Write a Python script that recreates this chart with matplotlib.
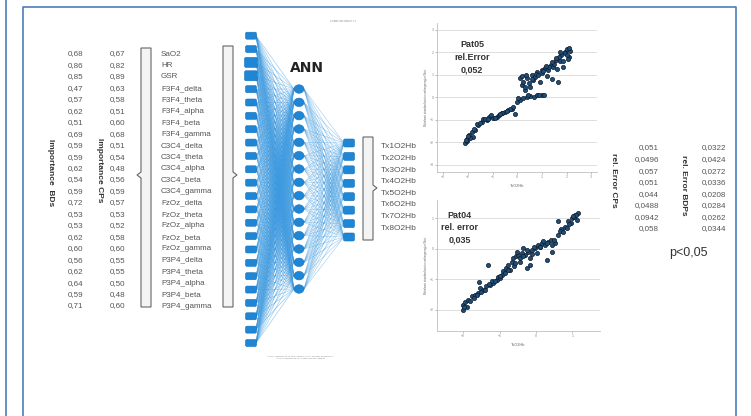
import numpy as np
import matplotlib.pyplot as plt
from matplotlib.patches import FancyBboxPatch, Ellipse, Polygon
from matplotlib.collections import LineCollection

plt.rcParams['font.family'] = ['Liberation Sans', 'DejaVu Sans']

# ---- data ----
features = ['SaO2', 'HR', 'GSR',
            'F3F4_delta', 'F3F4_theta', 'F3F4_alpha', 'F3F4_beta', 'F3F4_gamma',
            'C3C4_delta', 'C3C4_theta', 'C3C4_alpha', 'C3C4_beta', 'C3C4_gamma',
            'FzOz_delta', 'FzOz_theta', 'FzOz_alpha', 'FzOz_beta', 'FzOz_gamma',
            'P3P4_delta', 'P3P4_theta', 'P3P4_alpha', 'P3P4_beta', 'P3P4_gamma']
imp_bds = ['0,68', '0,86', '0,85', '0,47', '0,57', '0,62', '0,51', '0,69', '0,59', '0,59',
           '0,62', '0,54', '0,59', '0,72', '0,53', '0,53', '0,62', '0,60', '0,56', '0,62',
           '0,64', '0,59', '0,71']
imp_cps = ['0,67', '0,82', '0,89', '0,63', '0,58', '0,51', '0,60', '0,68', '0,51', '0,54',
           '0,48', '0,56', '0,59', '0,57', '0,53', '0,52', '0,58', '0,60', '0,55', '0,55',
           '0,50', '0,48', '0,60']
outputs = ['Tx1O2Hb', 'Tx2O2Hb', 'Tx3O2Hb', 'Tx4O2Hb', 'Tx5O2Hb', 'Tx6O2Hb', 'Tx7O2Hb', 'Tx8O2Hb']
err_cps = ['0,051', '0,0496', '0,057', '0,051', '0,044', '0,0488', '0,0942', '0,058']
err_bdps = ['0,0322', '0,0424', '0,0272', '0,0336', '0,0208', '0,0284', '0,0262', '0,0344']

n_input = 24   # 23 inputs + bias
n_hidden = 16
n_output = len(outputs)

pat05_x = [-2.12, -2.02, -1.94, -1.85, -1.71, -1.81, -1.58, -1.44, -1.38, -1.24, -1.13, -0.97,
           -0.84, -0.73, -0.63, -0.50, -0.36, -0.23, -0.09, -0.16, 0.00, 0.11, 0.24, 0.38,
           0.51, 0.67, 0.81, 0.99, 1.08, 0.18, 0.13, 0.24, 0.38, 0.49, 0.58, 0.72, 0.81,
           0.99, 1.12, 1.26, 1.35, 1.46, 1.39, 1.66, 1.57, 1.73, 1.79, 1.93, 2.02, 2.13,
           2.11, 1.86, 1.19, 0.92, 0.31, 0.51, -2.05, -1.90, -1.65, -1.30, -1.05, -0.60,
           -0.30, 0.05, 0.45, 0.90, 1.00, 1.50, 1.60, 1.95, 2.05, 0.65, 0.30, 1.70,
           -2.08, -1.98, -1.76, -1.50, -1.18, -0.90, -0.68, -0.42, 0.20, 0.35, 0.60,
           0.75, 1.05, 1.30, 1.42, 1.55, 1.85, 2.00, 2.10, 0.85, 1.15, 1.75]
pat05_y = [-2.01, -1.87, -1.67, -1.53, -1.45, -1.75, -1.23, -1.08, -0.98, -1.01, -0.89, -0.93,
           -0.86, -0.79, -0.71, -0.64, -0.56, -0.53, -0.74, -0.41, -0.19, -0.12, -0.04, 0.00,
           0.06, 0.03, 0.09, 0.12, 0.09, 0.55, 0.84, 0.70, 0.84, 0.62, 0.99, 0.92, 1.14,
           1.07, 1.29, 1.21, 1.44, 1.36, 0.80, 0.70, 1.66, 1.59, 1.88, 2.03, 2.13, 2.07,
           1.81, 1.36, 0.95, 0.70, 0.33, 0.47, -1.95, -1.80, -1.20, -0.95, -0.80, -0.70,
           -0.50, -0.05, 0.08, 0.10, 1.20, 1.50, 1.25, 1.95, 1.70, 0.75, 0.45, 1.80,
           -1.92, -1.72, -1.40, -1.15, -0.95, -0.90, -0.75, -0.60, 0.95, 1.00, 0.80,
           1.05, 1.15, 1.35, 1.55, 1.75, 1.60, 1.90, 2.20, 1.00, 1.40, 2.00]

pat04_x = [-2.00, -2.00, -1.95, -1.86, -1.77, -1.68, -1.58, -1.54, -1.45, -1.36, -1.26, -1.17,
           -1.08, -1.03, -0.94, -0.90, -0.82, -0.76, -0.67, -0.62, -0.55, -0.49, -0.39, -0.30,
           -0.21, -0.12, -0.03, 0.06, 0.16, 0.25, 0.34, 0.43, 0.52, 0.61, 0.71, 0.80, 0.89,
           0.98, 1.07, 1.16, 1.12, 0.61, -1.31, -1.56, -0.26, -0.16, 0.29, 0.43, -0.71,
           -0.44, -0.16, 0.02, -0.35, -0.53, -1.90, -1.70, -1.40, -1.20, -1.00, -0.85, -0.60,
           -0.45, -0.10, 0.10, 0.20, 0.40, 0.70, 0.95, 1.05, 0.85,
           -1.98, -1.80, -1.62, -1.50, -1.30, -1.12, -0.98, -0.78, -0.58, -0.35, -0.25,
           -0.05, 0.12, 0.30, 0.50, 0.66, 0.75, 0.92, 1.10, 1.02]
pat04_y = [-2.00, -1.84, -1.73, -1.67, -1.56, -1.51, -1.45, -1.29, -1.34, -1.23, -1.18, -1.13,
           -1.02, -0.91, -0.85, -0.74, -0.63, -0.52, -0.42, -0.31, -0.25, -0.20, -0.14, -0.20,
           -0.09, -0.03, 0.02, 0.13, 0.19, 0.13, 0.24, 0.13, 0.19, 0.46, 0.57, 0.73, 0.90,
           1.01, 1.11, 1.17, 0.95, 0.90, -0.52, -1.09, -0.63, -0.52, -0.36, -0.09, -0.69,
           -0.42, -0.31, -0.14, 0.02, -0.09, -1.90, -1.62, -1.35, -1.05, -0.95, -0.80, -0.55,
           -0.30, -0.18, 0.05, 0.25, 0.30, 0.65, 0.85, 1.05, 0.68,
           -1.92, -1.70, -1.50, -1.40, -1.15, -1.05, -0.90, -0.70, -0.45, -0.25, -0.05,
           0.05, 0.05, 0.20, 0.28, 0.60, 0.55, 0.80, 1.12, 1.08]

# ---- figure ----
fig = plt.figure(figsize=(7.51, 4.16), dpi=100)
ax = fig.add_axes([0, 0, 1, 1])
ax.set_xlim(0, 751)
ax.set_ylim(416, 0)
ax.axis('off')

frame_c = '#4a7ebb'
ax.plot([6, 6], [0, 416], color=frame_c, lw=1.2)
ax.plot([23, 23, 735.5, 735.5], [416, 7, 7, 416], color=frame_c, lw=1.2)

txt_c = '#555555'
rows = np.linspace(54, 306, len(features))
for yy, f, b, c in zip(rows, features, imp_bds, imp_cps):
    ax.text(76, yy, b, ha='center', va='center', fontsize=5.8, color=txt_c)
    ax.text(118, yy, c, ha='center', va='center', fontsize=5.8, color=txt_c)
    ax.text(161, yy, f, ha='left', va='center', fontsize=5.8, color=txt_c)
ax.text(50, 173, 'Importance  BDs', rotation=-90, ha='center', va='center',
        fontsize=6, fontweight='bold', color='#333333')
ax.text(100, 170, 'Importance CPs', rotation=-90, ha='center', va='center',
        fontsize=6, fontweight='bold', color='#333333')


def callout(x0, x1, y0, y1, ya, side):
    if side == 'left':
        pts = [(x1, y0), (x0, y0), (x0, ya - 3), (x0 - 4, ya), (x0, ya + 3), (x0, y1), (x1, y1)]
    else:
        pts = [(x0, y0), (x1, y0), (x1, ya - 3), (x1 + 4, ya), (x1, ya + 3), (x1, y1), (x0, y1)]
    ax.add_patch(Polygon(pts, closed=True, facecolor='#f4f4f4', edgecolor='#666666', lw=0.8))


callout(141, 151, 48, 307, 175, 'left')
callout(223, 233, 46, 307, 175, 'right')
callout(363, 373, 137, 240, 188, 'right')

# network
x_in, x_hid, x_out = 251, 299, 349
y_in = np.linspace(35.7, 343, n_input)
y_hid = np.linspace(89, 289, n_hidden)
y_out = np.linspace(143, 237, n_output)

segs = [[(x_in + 5, a), (x_hid - 5, b)] for a in y_in for b in y_hid]
ax.add_collection(LineCollection(segs, colors='#3d9ae0', lw=0.45, alpha=0.55))
segs = [[(x_hid + 5, a), (x_out - 5, b)] for a in y_hid for b in y_out]
ax.add_collection(LineCollection(segs, colors='#3d9ae0', lw=0.45, alpha=0.45))

node_c = '#1f86d6'
for i, yy in enumerate(y_in):
    w, h = (13, 10) if i in (2, 3) else (11, 7)
    ax.add_patch(FancyBboxPatch((x_in - w / 2, yy - h / 2), w, h,
                                boxstyle='round,pad=0,rounding_size=1.5',
                                facecolor=node_c, edgecolor='#1670b8', lw=0.4, zorder=3))
for yy in y_hid:
    ax.add_patch(Ellipse((x_hid, yy), 10, 8.5, facecolor=node_c, edgecolor='#1670b8',
                         lw=0.4, zorder=3))
for yy in y_out:
    ax.add_patch(FancyBboxPatch((x_out - 5.5, yy - 4), 11, 8,
                                boxstyle='round,pad=0,rounding_size=1.5',
                                facecolor=node_c, edgecolor='#1670b8', lw=0.4, zorder=3))

ax.text(307, 68, 'ANN', ha='center', va='center', fontsize=10, fontweight='bold',
        color='#222222', family=['DejaVu Sans'])
ax.text(343, 21, 'Synaptisches Gewicht > 0\nSynaptisches Gewicht < 0', ha='center',
        va='center', fontsize=1.6, color='#888888')
ax.text(300, 357, 'Aktivierungsfunktion für verborgene Schicht: Tangens hyperbolicus\n'
        'Aktivierungsfunktion für Ausgabeschicht: Identität', ha='center', va='center',
        fontsize=1.6, color='#888888', linespacing=1.8)

for yy, o in zip(np.linspace(147, 228, n_output), outputs):
    ax.text(381, yy, o, ha='left', va='center', fontsize=6, color=txt_c)

# errors
er_rows = np.linspace(148, 229, n_output)
for yy, a, b in zip(er_rows, err_cps, err_bdps):
    ax.text(659, yy, a, ha='right', va='center', fontsize=5.8, color=txt_c)
    ax.text(726, yy, b, ha='right', va='center', fontsize=5.8, color=txt_c)
ax.text(613, 180, 'rel. Error CPs', rotation=-90, ha='center', va='center',
        fontsize=6, fontweight='bold', color='#333333')
ax.text(683, 185, 'rel. Error BDPs', rotation=-90, ha='center', va='center',
        fontsize=6, fontweight='bold', color='#333333')
ax.text(688, 253, 'p<0,05', ha='center', va='center', fontsize=9, color='#333333')


def scatter_panel(rect, xs, ys, xlim, ylim, ticks_x, ticks_y, note, note_xy):
    s = fig.add_axes(rect)
    s.scatter(xs, ys, s=9, facecolor='#1f4e79', edgecolor='#0d1a2a', lw=0.5, zorder=3)
    s.set_xlim(*xlim)
    s.set_ylim(*ylim)
    s.set_xticks(ticks_x)
    s.set_yticks(ticks_y)
    s.tick_params(labelsize=2.5, colors='#888888', length=1.5, width=0.4, pad=1)
    s.grid(axis='y', color='#d9d9d9', lw=0.6)
    s.set_axisbelow(True)
    for k in ('top', 'right'):
        s.spines[k].set_visible(False)
    for k in ('left', 'bottom'):
        s.spines[k].set_color('#bfbfbf')
        s.spines[k].set_linewidth(0.6)
    s.set_xlabel('TxO2Hb', fontsize=2.8, color='#666666', labelpad=3)
    s.set_ylabel('Mittelwert standardisierter vorhergesagter Wert', fontsize=2,
                 color='#666666', labelpad=1)
    s.patch.set_alpha(0)
    s.text(note_xy[0], note_xy[1], note, transform=s.transAxes, ha='center', va='center',
           fontsize=6.5, fontweight='bold', color='#333333', linespacing=1.5)
    return s


scatter_panel([437 / 751, (416 - 172) / 416, 160 / 751, 149 / 416], pat05_x, pat05_y,
              (-3.25, 3.23), (-3.32, 3.30), range(-3, 4), range(-3, 4),
              'Pat05\nrel.Error\n0,052', (0.22, 0.77))
scatter_panel([437 / 751, (416 - 331) / 416, 163 / 751, 131 / 416], pat04_x, pat04_y,
              (-2.72, 1.76), (-2.69, 1.6), range(-2, 2), range(-2, 2),
              'Pat04\nrel. error\n0,035', (0.14, 0.79))

fig.savefig('out.png', dpi=100)
